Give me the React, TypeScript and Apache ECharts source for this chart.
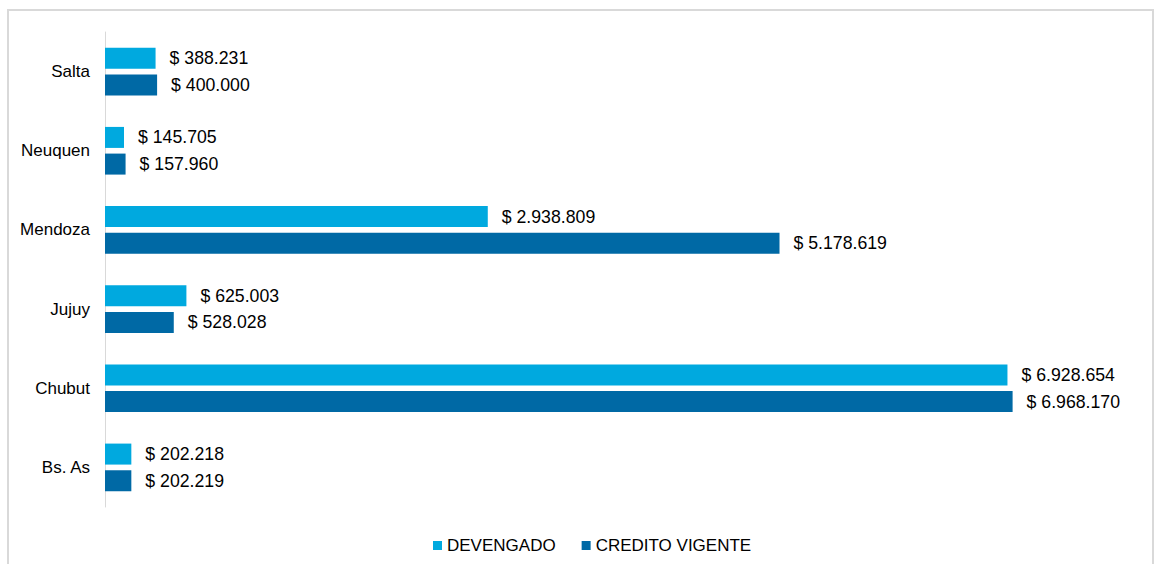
import React, { useEffect, useRef } from "react";
import * as echarts from "echarts";

const categories = ["Bs. As", "Chubut", "Jujuy", "Mendoza", "Neuquen", "Salta"];
const devengado = [202218, 6928654, 625003, 2938809, 145705, 388231];
const creditoVigente = [202219, 6968170, 528028, 5178619, 157960, 400000];
const seriesNames = ["DEVENGADO", "CREDITO VIGENTE"];
const colors = ["#00A9DF", "#0069A5"];

const fmt = (v: number) => "$ " + String(Math.round(v)).replace(/\B(?=(\d{3})+(?!\d))/g, ".");

export default function App() {
  const ref = useRef<HTMLDivElement>(null);
  useEffect(() => {
    if (!ref.current) return;
    const chart = echarts.init(ref.current, null, { renderer: "svg" });
    const font = "Liberation Sans, Arial, sans-serif";
    const label = {
      show: true,
      position: "right",
      distance: 14,
      color: "#000",
      fontSize: 17.7,
      fontFamily: font,
      formatter: (p: any) => fmt(p.value),
    };
    chart.setOption({
      animation: false,
      textStyle: { fontFamily: font },
      graphic: [
        {
          type: "rect",
          shape: { x: 8, y: 10, width: 1145, height: 600 },
          style: { fill: "none", stroke: "#d9d9d9", lineWidth: 2 },
          silent: true,
        },
      ],
      grid: { left: 105, right: 7, top: 32, bottom: 57, containLabel: false },
      legend: {
        data: seriesNames,
        bottom: 5,
        left: 428,
        icon: "rect",
        itemWidth: 9,
        itemHeight: 9,
        itemGap: 26,
        textStyle: { fontSize: 17, color: "#000", fontFamily: font },
      },
      xAxis: {
        type: "value",
        min: 0,
        max: 8000000,
        show: false,
        splitLine: { show: false },
      },
      yAxis: {
        type: "category",
        data: categories,
        axisLine: { show: true, lineStyle: { color: "#d9d9d9", width: 1 } },
        axisTick: { show: false },
        axisLabel: { color: "#000", fontSize: 17, fontFamily: font, margin: 15 },
      },
      series: [
        {
          name: seriesNames[0],
          type: "bar",
          data: devengado,
          barWidth: 21,
          barGap: "27%",
          itemStyle: { color: colors[0] },
          label,
        },
        {
          name: seriesNames[1],
          type: "bar",
          data: creditoVigente,
          barWidth: 21,
          barGap: "27%",
          itemStyle: { color: colors[1] },
          label,
        },
      ],
    });
    return () => chart.dispose();
  }, []);
  return (
    <div
      ref={ref}
      style={{ position: "absolute", left: 0, top: 0, width: 1154, height: 564, background: "#fff" }}
    />
  );
}
